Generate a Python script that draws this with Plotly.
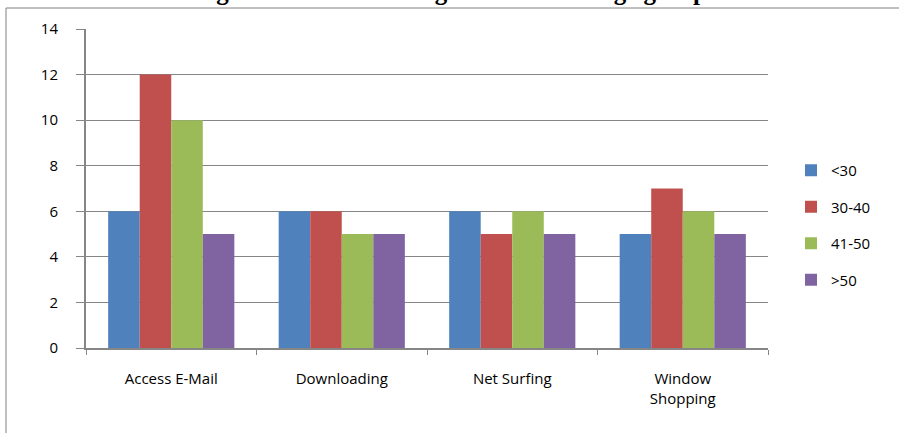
import plotly.graph_objects as go

categories = ["Access E-Mail", "Downloading", "Net Surfing", "Window<br>Shopping"]
series_names = ["<30", "30-40", "41-50", ">50"]
under_30 = [6, 6, 6, 5]
age_30_40 = [12, 6, 5, 7]
age_41_50 = [10, 5, 6, 6]
over_50 = [5, 5, 5, 5]
colors = ["#4F81BD", "#C0504D", "#9BBB59", "#8064A2"]
y_ticks = [0, 2, 4, 6, 8, 10, 12, 14]
title_text = "Figure 2 – Website usage for different age groups"

fig = go.Figure()
for i, (name, vals) in enumerate(zip(series_names, [under_30, age_30_40, age_41_50, over_50])):
    fig.add_trace(go.Bar(x=categories, y=vals, name=name, marker_color=colors[i],
                         marker_line_width=0, legendgroup=str(i)))

W, H = 899, 433
L, R, T, B = 86, 131, 29, 85
pw, ph = W - L - R, H - T - B

fig.update_layout(
    width=W, height=H,
    margin=dict(l=L, r=R, t=T, b=B),
    paper_bgcolor="white", plot_bgcolor="white",
    barmode="group", bargap=0.26, bargroupgap=0,
    font=dict(family="Open Sans, Liberation Sans, sans-serif", size=15, color="black"),
    legend=dict(x=(791 - L) / pw, xanchor="left", y=(H - B - 154) / ph, yanchor="top",
                font=dict(size=15), tracegroupgap=14, bgcolor="rgba(0,0,0,0)"),
    showlegend=True,
)
fig.add_annotation(text="<b>" + title_text + "</b>", xref="paper", yref="paper",
                   x=(455 - L) / pw, xanchor="center", y=1 + (T + 9) / ph, yanchor="middle",
                   showarrow=False,
                   font=dict(family="Liberation Serif, Times New Roman, serif", size=25, color="black"))
fig.update_yaxes(range=[0, 14], tickvals=y_ticks, showgrid=True, gridcolor="#868686", gridwidth=1,
                 showline=True, linecolor="#868686", linewidth=2, ticks="outside", ticklen=8,
                 tickcolor="#868686", zeroline=False, tickfont=dict(size=15), ticklabelstandoff=15)
fig.update_xaxes(showline=True, linecolor="#868686", linewidth=2, ticks="outside", ticklen=5,
                 tickcolor="#868686", tickson="boundaries", tickfont=dict(size=15),
                 ticklabelstandoff=16)

fig.add_shape(type="rect", xref="paper", yref="paper",
              x0=(6 - L) / pw, x1=(W + 20 - L) / pw,
              y0=-(B + 20) / ph, y1=1 + (T - 8) / ph,
              line=dict(color="#808080", width=1), layer="below")

fig.write_html("out.html")
